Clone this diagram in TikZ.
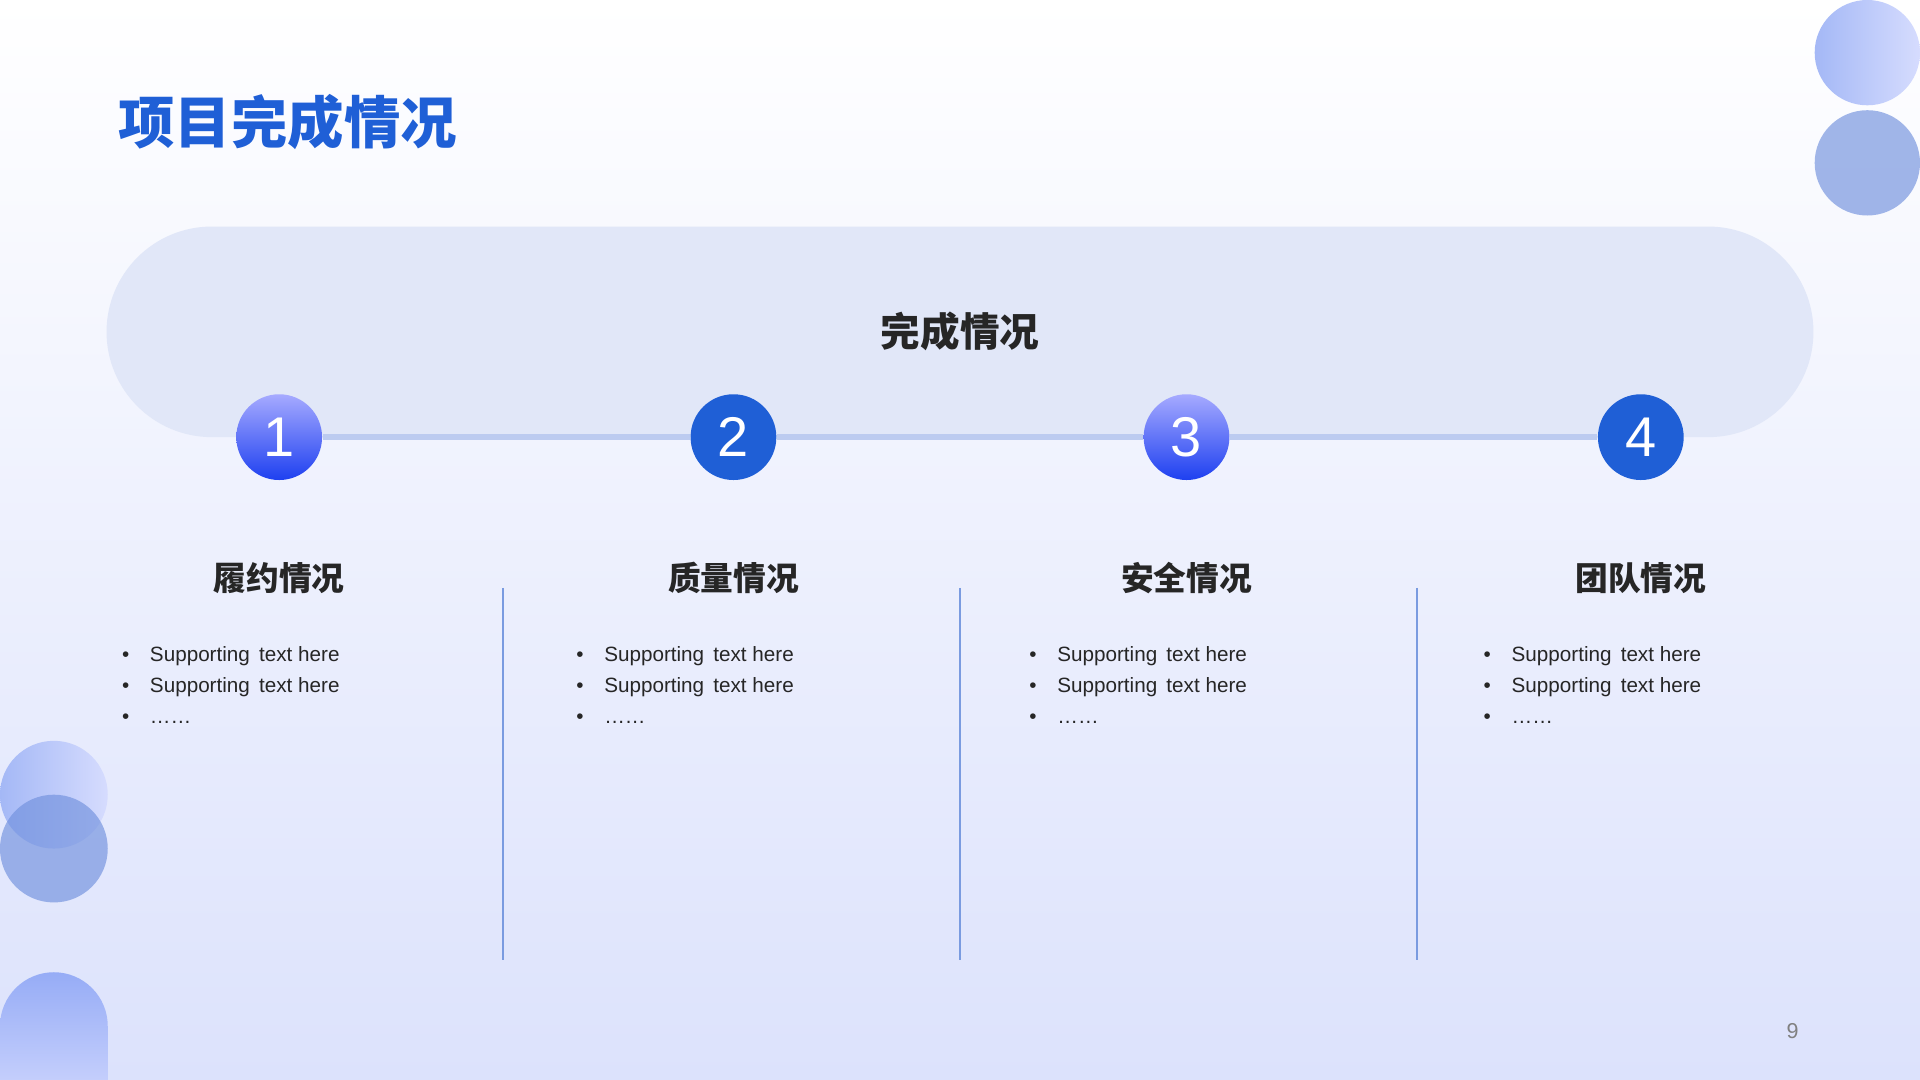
\documentclass[tikz,border=0pt]{standalone}
\usepackage{fontspec}
\setmainfont{Liberation Sans}
\newfontfamily\cjk{Noto Sans CJK SC}
\usetikzlibrary{positioning}
\definecolor{titleblue}{HTML}{1F5FD6}
\definecolor{pillfill}{HTML}{E1E7F8}
\definecolor{barline}{HTML}{BCCBF0}
\definecolor{sepline}{HTML}{7A9BE0}
\definecolor{darktext}{HTML}{262626}
\definecolor{bgbottom}{RGB}{220,226,252}
\definecolor{decoleft}{RGB}{164,184,246}
\definecolor{decoright}{RGB}{214,220,254}
\definecolor{decodark}{RGB}{112,144,221}
\definecolor{dottop}{RGB}{166,170,255}
\definecolor{dotbottom}{RGB}{30,64,240}
\definecolor{archtop}{RGB}{150,172,246}
\definecolor{archbottom}{RGB}{196,206,252}
\tikzset{
  numdot/.style={circle, minimum size=0.70cm, inner sep=0pt, text=white, font=\fontsize{13}{13}\selectfont},
  headlabel/.style={text=darktext, font=\cjk\bfseries\fontsize{7.6}{8}\selectfont},
  bulletlist/.style={anchor=north west, text=darktext, align=left, inner sep=0pt, font=\fontsize{4.8}{7.2}\selectfont}
}
\begin{document}
\begin{tikzpicture}[x=0.01cm,y=-0.01cm]
			\useasboundingbox (0,0) rectangle (1568,882);
			\shade[top color=white, bottom color=bgbottom] (0,0) rectangle (1568,882);
			
			% decorations
			\shade[left color=decoleft, right color=decoright] (1525,43) circle (43);
			\fill[decodark, opacity=0.65] (1525,133) circle (43);
			\shade[left color=decoleft, right color=decoright] (44,649) circle (44);
			\fill[decodark, opacity=0.65] (44,693) circle (44);
			\shade[top color=archtop, bottom color=archbottom] (0,882) -- (0,838) arc[start angle=180, end angle=360, radius=44] -- (88,882) -- cycle;
			
			\node[anchor=west, text=titleblue, font=\cjk\bfseries\fontsize{13.1}{14}\selectfont, inner sep=0pt] (title) at (96,100) {项目完成情况};
			
			\fill[pillfill, rounded corners=0.86cm] (87,185) rectangle (1481,357);
			\node[text=darktext, font=\cjk\bfseries\fontsize{9.2}{10}\selectfont] (maintitle) at (784,271) {完成情况};
			
			\node[numdot, top color=dottop, bottom color=dotbottom] (n1) at (228,357) {1};
			\node[numdot, fill=titleblue] (n2) at (599,357) {2};
			\node[numdot, top color=dottop, bottom color=dotbottom] (n3) at (969,357) {3};
			\node[numdot, fill=titleblue] (n4) at (1340,357) {4};
			
			\def\list {n1/n2, n2/n3, n3/n4}  % bar between dots
			\foreach \u\v in \list
			{	\draw[barline, line width=1.3pt] (\u) -- (\v);}
			
			\foreach \n/\t/\x in {1/履约情况/228, 2/质量情况/599, 3/安全情况/969, 4/团队情况/1340}
			{	\node[headlabel] (h\n) at (\x,472) {\t};
				\node[bulletlist] (b\n) at (\x-129,527) {\textbullet\hspace{1em}Supporting\, text here\\ \textbullet\hspace{1em}Supporting\, text here\\ \textbullet\hspace{1em}\dots\dots};}
			
			\foreach \x in {411, 784, 1157}
			{	\draw[sepline, line width=0.5pt] (\x,480) -- (\x,784);}
			
			\node[text=gray, font=\fontsize{5}{6}\selectfont] (pagenum) at (1464,842) {9};
		\end{tikzpicture}
\end{document}
